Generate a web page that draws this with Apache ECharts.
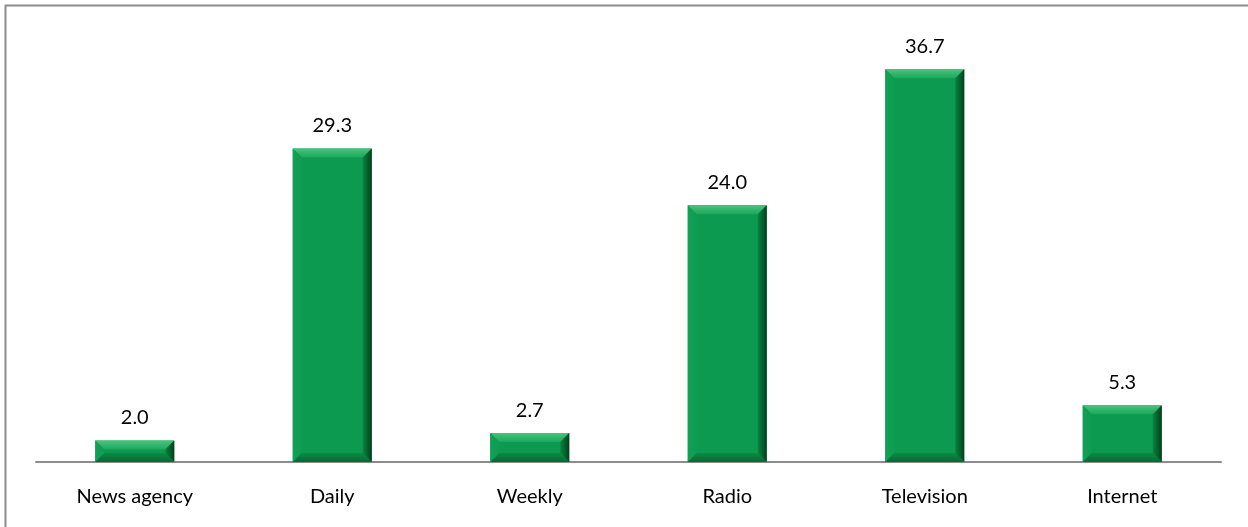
<!DOCTYPE html>
<html><head><meta charset="utf-8">
<script src="https://cdn.jsdelivr.net/npm/echarts@6/dist/echarts.min.js"></script>
<style>html,body{margin:0;padding:0;background:#fff}#c{width:1248px;height:527px}</style>
</head><body><div id="c"></div>
<script>
const categories = ['News agency','Daily','Weekly','Radio','Television','Internet'];
const values = [2.0, 29.3, 2.7, 24.0, 36.7, 5.3];

const chart = echarts.init(document.getElementById('c'));
const FONT = 'Lato';
function renderBar(params, api) {
  const x = api.value(0), v = api.value(1);
  const top = api.coord([x, v]);
  const base = api.coord([x, 0]);
  const bw = api.size([1, 0])[0] * 0.4;
  const l = top[0] - bw / 2, r = top[0] + bw / 2, t = top[1], b = base[1];
  const h = b - t;
  const bev = Math.min(9, h / 2);
  const main = '#0B9A4F';
  return {
    type: 'group',
    children: [
      { type: 'rect', shape: { x: l, y: t, width: bw, height: h }, style: { fill: main } },
      { type: 'polygon', shape: { points: [[l, t], [r, t], [r - bev, t + bev], [l + bev, t + bev]] },
        style: { fill: { type: 'linear', x: 0, y: 0, x2: 0, y2: 1, colorStops: [{ offset: 0, color: '#4cc27f' }, { offset: 1, color: '#1aa85c' }] } } },
      { type: 'polygon', shape: { points: [[l, t], [l + bev, t + bev], [l + bev, b - bev], [l, b]] },
        style: { fill: { type: 'linear', x: 0, y: 0, x2: 1, y2: 0, colorStops: [{ offset: 0, color: '#12a055' }, { offset: 1, color: '#0d9c51' }] } } },
      { type: 'polygon', shape: { points: [[r, t], [r, b], [r - bev, b - bev], [r - bev, t + bev]] },
        style: { fill: { type: 'linear', x: 0, y: 0, x2: 1, y2: 0, colorStops: [{ offset: 0, color: '#08843f' }, { offset: 1, color: '#02401c' }] } } },
      { type: 'polygon', shape: { points: [[l, b], [r, b], [r - bev, b - bev], [l + bev, b - bev]] },
        style: { fill: { type: 'linear', x: 0, y: 0, x2: 0, y2: 1, colorStops: [{ offset: 0, color: '#0a8a45' }, { offset: 1, color: '#066a33' }] } } },
      { type: 'text', x: top[0], y: t - 13,
        style: { text: v.toFixed(1), fill: '#000', font: '20px ' + FONT, textAlign: 'center', textVerticalAlign: 'bottom' } }
    ]
  };
}
chart.setOption({
  animation: false,
  grid: { left: 36, right: 27, top: 34, bottom: 65, containLabel: false },
  xAxis: {
    type: 'category', data: categories,
    axisLine: { lineStyle: { color: '#8c8c8c', width: 2 } },
    axisTick: { show: false },
    axisLabel: { color: '#000', fontFamily: FONT, fontSize: 20, margin: 25 }
  },
  yAxis: { type: 'value', min: 0, max: 40, show: false, splitLine: { show: false } },
  series: [{
    type: 'custom', renderItem: renderBar,
    data: values.map((v, i) => [i, v]),
    encode: { x: 0, y: 1 }
  }],
  graphic: [
    { type: 'line', shape: { x1: 5, y1: 5.5, x2: 1248, y2: 5.5 }, style: { stroke: '#8c8c8c', lineWidth: 2 } },
    { type: 'line', shape: { x1: 5.5, y1: 5, x2: 5.5, y2: 527 }, style: { stroke: '#8c8c8c', lineWidth: 2 } }
  ]
});
</script></body></html>
